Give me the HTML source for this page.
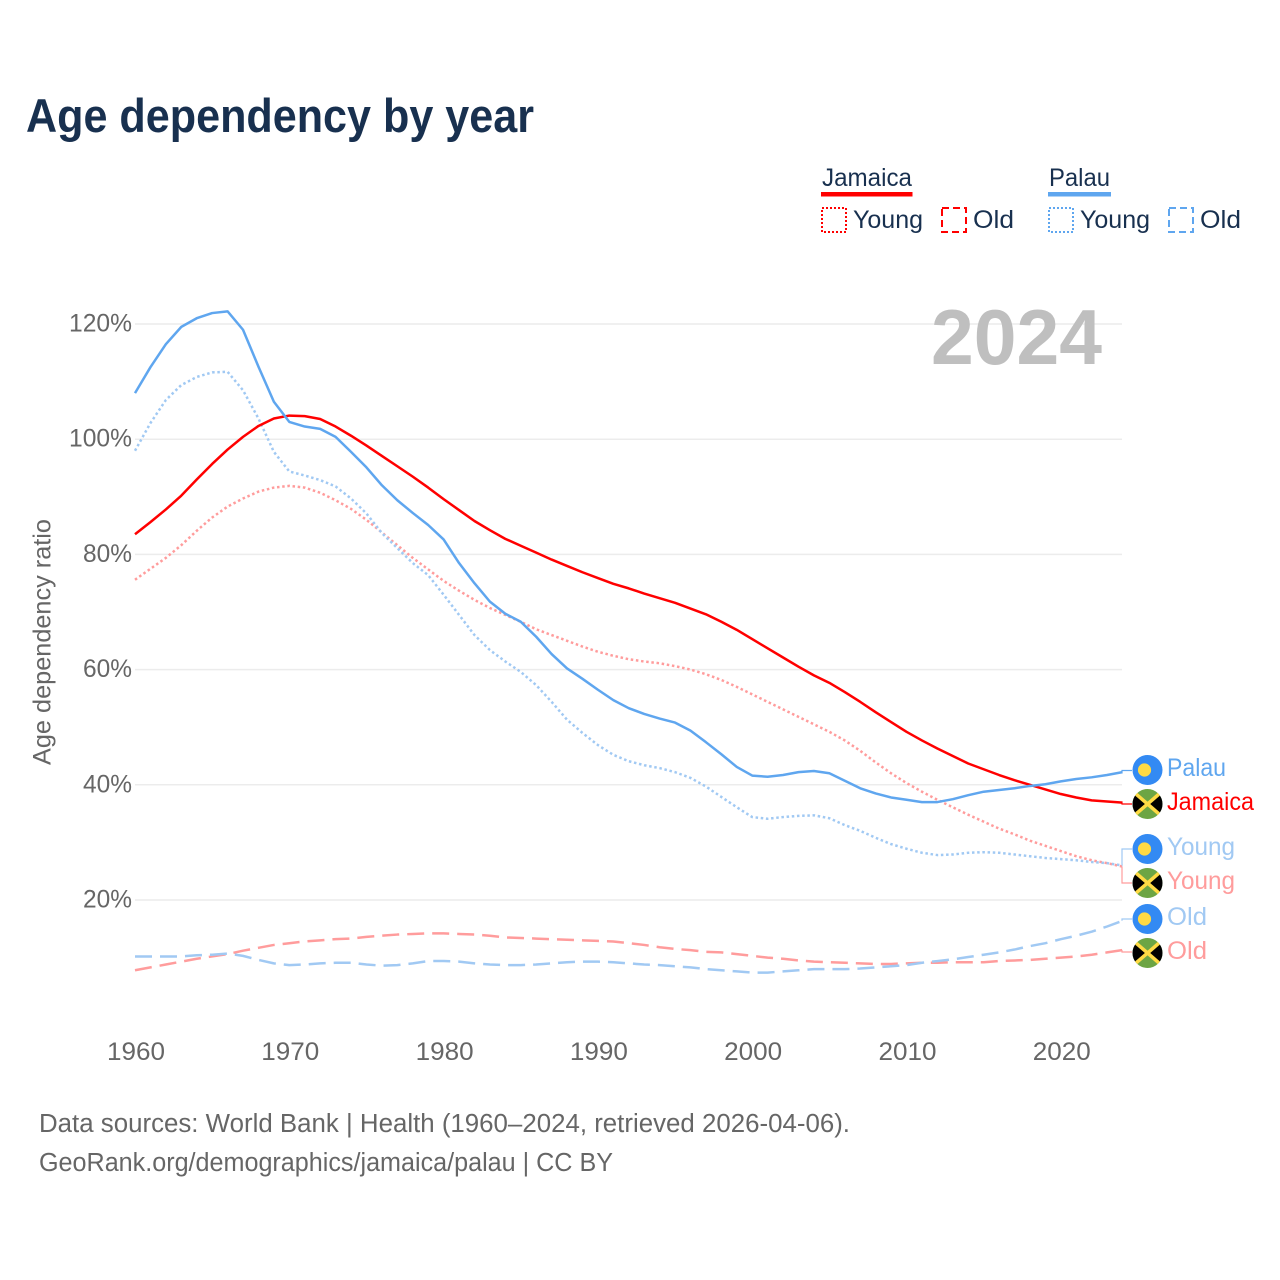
<!DOCTYPE html>
<html lang="en">
<head>
<meta charset="utf-8">
<title>Age dependency by year</title>
<style>
html,body{margin:0;padding:0;background:#fff;}
svg{display:block;}
text{font-family:"Liberation Sans",sans-serif;}
</style>
</head>
<body>
<svg id="chart" xmlns="http://www.w3.org/2000/svg" width="1280" height="1280" viewBox="0 0 1280 1280">
  <rect width="1280" height="1280" fill="#fff"/>
  <text x="26" y="132" font-size="47" font-weight="700" fill="#18304f" textLength="508" lengthAdjust="spacingAndGlyphs">Age dependency by year</text>

  <g font-size="25" fill="#18304f">
    <text x="822" y="186" textLength="90" lengthAdjust="spacingAndGlyphs">Jamaica</text>
    <rect x="821" y="192" width="91.500" height="4.500" fill="#ff0000"/>
    <rect x="822" y="208" width="24" height="24" fill="none" stroke="#ff0000" stroke-width="2" stroke-dasharray="2 2"/>
    <text x="853" y="228" textLength="70" lengthAdjust="spacingAndGlyphs">Young</text>
    <rect x="942" y="208" width="24" height="24" fill="none" stroke="#ff0000" stroke-width="2" stroke-dasharray="7 4"/>
    <text x="973" y="228" textLength="41" lengthAdjust="spacingAndGlyphs">Old</text>
    <text x="1049" y="186" textLength="61" lengthAdjust="spacingAndGlyphs">Palau</text>
    <rect x="1048" y="192" width="63" height="4.500" fill="#5fa6ef"/>
    <rect x="1049" y="208" width="24" height="24" fill="none" stroke="#5fa6ef" stroke-width="2" stroke-dasharray="2 2"/>
    <text x="1080" y="228" textLength="70" lengthAdjust="spacingAndGlyphs">Young</text>
    <rect x="1169" y="208" width="24" height="24" fill="none" stroke="#5fa6ef" stroke-width="2" stroke-dasharray="7 4"/>
    <text x="1200" y="228" textLength="41" lengthAdjust="spacingAndGlyphs">Old</text>
  </g>

  <text transform="translate(50.500 642) rotate(-90)" text-anchor="middle" font-size="25" fill="#666" textLength="246" lengthAdjust="spacingAndGlyphs">Age dependency ratio</text>

  <g id="grid"></g>
  <g id="yticks"></g>
  <g id="xticks"></g>

  <text x="931" y="364" font-size="78" font-weight="700" fill="#bfbfbf" textLength="171" lengthAdjust="spacingAndGlyphs">2024</text>

  <g id="series"></g>
  <g id="connectors"></g>

  <defs>
    <clipPath id="flagClip"><circle cx="0" cy="0" r="15"/></clipPath>
    <g id="flag-palau">
      <circle r="15" fill="#338af3"/>
      <circle cx="-3" cy="0" r="6.600" fill="#ffda44"/>
    </g>
    <g id="flag-jamaica">
      <g clip-path="url(#flagClip)">
        <rect x="-15" y="-15" width="30" height="30" fill="#6da544"/>
        <polygon points="-15,-11 -2,0 -15,11" fill="#000"/>
        <polygon points="15,-11 2,0 15,11" fill="#000"/>
        <line x1="-15" y1="-13" x2="15" y2="13" stroke="#ffda44" stroke-width="3.500"/>
        <line x1="-15" y1="13" x2="15" y2="-13" stroke="#ffda44" stroke-width="3.500"/>
      </g>
    </g>
  </defs>

  <g font-size="25">
    <use href="#flag-palau" x="1147.500" y="770"/>
    <text x="1167" y="776" fill="#5fa6ef" textLength="59" lengthAdjust="spacingAndGlyphs">Palau</text>
    <use href="#flag-jamaica" x="1147.500" y="804"/>
    <text x="1167" y="810" fill="#ff0000" textLength="87" lengthAdjust="spacingAndGlyphs">Jamaica</text>
    <use href="#flag-palau" x="1147.500" y="849"/>
    <text x="1167" y="855" fill="#a1c9f3" textLength="68" lengthAdjust="spacingAndGlyphs">Young</text>
    <use href="#flag-jamaica" x="1147.500" y="883"/>
    <text x="1167" y="889" fill="#ff9c9c" textLength="68" lengthAdjust="spacingAndGlyphs">Young</text>
    <use href="#flag-palau" x="1147.500" y="919"/>
    <text x="1167" y="925" fill="#a1c9f3" textLength="40" lengthAdjust="spacingAndGlyphs">Old</text>
    <use href="#flag-jamaica" x="1147.500" y="953"/>
    <text x="1167" y="959" fill="#ff9c9c" textLength="40" lengthAdjust="spacingAndGlyphs">Old</text>
  </g>

  <text x="39" y="1132" font-size="25.500" fill="#666" textLength="811" lengthAdjust="spacingAndGlyphs">Data sources: World Bank | Health (1960–2024, retrieved 2026-04-06).</text>
  <text x="39" y="1171" font-size="25.500" fill="#666" textLength="574" lengthAdjust="spacingAndGlyphs">GeoRank.org/demographics/jamaica/palau | CC BY</text>
</svg>

<script>
const firstYear = 1960;
const xTickLabels = [1960,1970,1980,1990,2000,2010,2020];
const yTickLabels = [20,40,60,80,100,120];

const palauTotal = [
108.0,112.5,116.5,119.5,121.0,121.9,122.2,119.0,112.6,106.5,
103.0,102.2,101.8,100.4,97.8,95.1,92.0,89.4,87.2,85.1,
82.6,78.5,75.0,71.8,69.7,68.3,65.7,62.7,60.2,58.4,
56.5,54.7,53.3,52.3,51.5,50.8,49.4,47.4,45.3,43.1,
41.6,41.4,41.7,42.2,42.4,42.0,40.7,39.4,38.5,37.8,
37.4,37.0,37.0,37.5,38.2,38.8,39.1,39.4,39.8,40.1,
40.6,41.0,41.3,41.7,42.2];

const palauYoung = [
98.0,102.8,106.8,109.4,110.8,111.6,111.7,108.5,103.6,97.8,
94.4,93.7,92.9,91.8,89.7,87.1,83.7,81.1,78.5,76.4,
73.0,69.5,66.0,63.4,61.4,59.6,57.3,54.4,51.3,49.0,
46.9,45.2,44.1,43.4,42.9,42.2,41.2,39.7,37.9,36.1,
34.4,34.1,34.4,34.6,34.7,34.2,33.0,32.0,30.8,29.7,
28.9,28.2,27.8,27.9,28.2,28.3,28.2,27.9,27.6,27.3,
27.1,26.9,26.6,26.4,26.0];

const palauOld = [
10.2,10.2,10.2,10.2,10.4,10.5,10.7,10.3,9.6,9.0,
8.7,8.8,9.0,9.1,9.1,8.8,8.6,8.7,9.0,9.4,
9.4,9.3,9.0,8.8,8.7,8.7,8.8,9.0,9.2,9.3,
9.3,9.2,9.0,8.8,8.7,8.5,8.3,8.0,7.8,7.6,
7.4,7.4,7.6,7.8,8.0,8.0,8.0,8.1,8.3,8.5,
8.7,9.1,9.4,9.7,10.1,10.5,10.9,11.4,12.0,12.5,
13.2,13.8,14.5,15.4,16.4];

const jamaicaTotal = [
83.5,85.6,87.8,90.2,93.0,95.7,98.2,100.4,102.3,103.6,
104.1,104.0,103.5,102.2,100.6,98.9,97.1,95.3,93.5,91.6,
89.6,87.7,85.8,84.2,82.7,81.5,80.3,79.1,78.0,76.9,
75.9,74.9,74.1,73.2,72.4,71.6,70.6,69.6,68.3,66.9,
65.3,63.7,62.1,60.5,59.0,57.7,56.1,54.4,52.6,50.9,
49.2,47.7,46.3,45.0,43.7,42.7,41.7,40.8,40.0,39.2,
38.4,37.8,37.3,37.1,36.9];

const jamaicaYoung = [
75.6,77.5,79.4,81.6,84.1,86.4,88.3,89.7,90.9,91.6,
91.9,91.6,90.7,89.4,87.9,86.0,83.8,81.6,79.4,77.4,
75.4,73.7,72.1,70.7,69.5,68.3,67.0,66.0,65.0,64.0,
63.1,62.4,61.8,61.4,61.1,60.6,60.0,59.2,58.2,57.0,
55.7,54.4,53.1,51.8,50.5,49.2,47.7,45.9,43.9,42.0,
40.3,38.8,37.4,36.1,34.8,33.6,32.4,31.4,30.3,29.4,
28.5,27.6,26.9,26.4,25.8];

const jamaicaOld = [
7.8,8.3,8.8,9.3,9.8,10.2,10.6,11.2,11.7,12.2,
12.5,12.8,13.0,13.2,13.3,13.6,13.8,14.0,14.1,14.2,
14.2,14.1,14.0,13.8,13.5,13.4,13.3,13.2,13.1,13.0,
12.9,12.8,12.5,12.2,11.8,11.5,11.3,11.0,10.9,10.6,
10.3,10.0,9.8,9.5,9.3,9.2,9.1,9.0,8.9,8.9,
9.0,9.1,9.1,9.2,9.2,9.2,9.4,9.5,9.6,9.8,
10.0,10.2,10.5,10.9,11.3];

const NS = 'http://www.w3.org/2000/svg';
function xScale(year){ return 135 + (year - 1960) * 15.43; }
function yScale(v){ return 1015.2 - v * 5.76; }
function make(tag, attrs, parent){
  const el = document.createElementNS(NS, tag);
  for (const k in attrs) el.setAttribute(k, attrs[k]);
  parent.appendChild(el);
  return el;
}

const gridG = document.getElementById('grid');
const yG = document.getElementById('yticks');
const xG = document.getElementById('xticks');
yTickLabels.forEach(function(v){
  const line = make('line', {x1:135, x2:1122, y1:yScale(v), y2:yScale(v), stroke:'#ececec', 'stroke-width':1.5}, gridG);
  
  
  const t = make('text', {x:132, y:yScale(v)+7.5, 'text-anchor':'end', 'font-size':25, fill:'#666', textLength: v >= 100 ? 63 : 49, lengthAdjust:'spacingAndGlyphs'}, yG);
  
  
  t.textContent = v + '%';
});
xTickLabels.forEach(function(y){
  const t = make('text', {x:xScale(y)+1, y:1060, 'text-anchor':'middle', 'font-size':25, fill:'#666', textLength:58, lengthAdjust:'spacingAndGlyphs'}, xG);
  
  
  t.textContent = y;
});

function pathOf(values){
  return values.map(function(v, i){
    return (i ? 'L' : 'M') + xScale(firstYear + i).toFixed(2) + ' ' + yScale(v).toFixed(2);
  }).join(' ');
}
const seriesG = document.getElementById('series');
function drawLine(name, values, color, dash){
  const p = make('path', {d:pathOf(values), fill:'none', stroke:color, 'stroke-width':2.5, 'stroke-linejoin':'round'}, seriesG);
  if (dash) p.setAttribute('stroke-dasharray', dash);
  
  
}
drawLine('line-jamaica-old', jamaicaOld, '#ff9c9c', '17 8');
drawLine('line-palau-old', palauOld, '#a1c9f3', '17 8');
drawLine('line-jamaica-young', jamaicaYoung, '#ff9c9c', '2.5 2.7');
drawLine('line-palau-young', palauYoung, '#a1c9f3', '2.5 2.7');
drawLine('line-jamaica-total', jamaicaTotal, '#ff0000', '');
drawLine('line-palau-total', palauTotal, '#5fa6ef', '');

const connG = document.getElementById('connectors');
function drawConnector(name, values, labelY, color){
  const endY = yScale(values[values.length - 1]);
  const c = make('path', {d:'M1122 ' + endY.toFixed(2) + ' L1122 ' + labelY + ' L1132 ' + labelY, fill:'none', stroke:color, 'stroke-width':1.2}, connG);
  
  
}
drawConnector('connector-palau', palauTotal, 770.5, '#5fa6ef');
drawConnector('connector-jamaica', jamaicaTotal, 804, '#ff0000');
drawConnector('connector-palau-young', palauYoung, 849, '#a1c9f3');
drawConnector('connector-jamaica-young', jamaicaYoung, 883, '#ff9c9c');
drawConnector('connector-palau-old', palauOld, 919, '#a1c9f3');
drawConnector('connector-jamaica-old', jamaicaOld, 952, '#ff9c9c');
</script>
</body>
</html>
